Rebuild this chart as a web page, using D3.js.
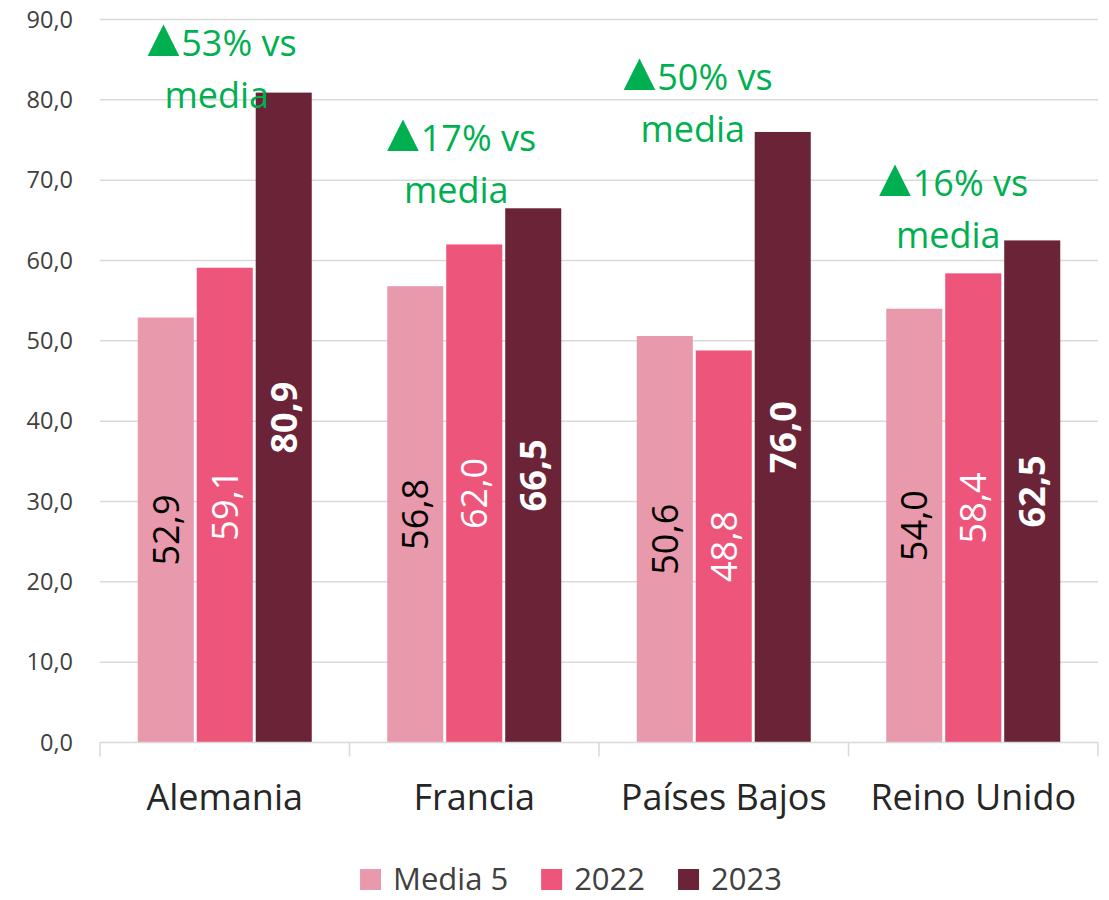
<!DOCTYPE html>
<html>
<head>
<meta charset="utf-8">
<script src="https://cdn.jsdelivr.net/npm/d3@7"></script>
<style>
  body { margin: 0; background: #fff; }
  svg { display: block; font-family: "Open Sans", sans-serif; }
</style>
</head>
<body>
<svg width="1109" height="900"></svg>
<script>
// Data
let countries = ["Alemania", "Francia", "Países Bajos", "Reino Unido"];
let seriesNames = ["Media 5", "2022", "2023"];
let media5 = [52.9, 56.8, 50.6, 54.0];
let y2022 = [59.1, 62.0, 48.8, 58.4];
let y2023 = [80.9, 66.5, 76.0, 62.5];
let notes = ["53% vs", "17% vs", "50% vs", "16% vs"];
let yTicks = [0, 10, 20, 30, 40, 50, 60, 70, 80, 90];

// Styles
let colors = ["#E899AB", "#ED557B", "#6B2437"];
let labelColors = ["#000", "#fff", "#fff"];
let labelWeights = ["normal", "normal", "bold"];
let green = "#00B050";
// hand placement of the green notes (px shift from 2023 bar top / group centre)
let noteNudge = [[-8, 15], [-18, -5], [-31, 10], [-25, 8]];

let svg = d3.select("svg");
let fmt = v => d3.format(".1f")(v).replace(".", ",");

let rows = countries.map((c, i) => ({ country: c, values: [media5[i], y2022[i], y2023[i]] }));

let x0 = d3.scaleBand().domain(countries).range([100, 1098]).padding(0);
let x1 = d3.scaleBand().domain(seriesNames)
  .range([37.75, x0.bandwidth() - 37.75]).paddingInner(0.05);
let y = d3.scaleLinear().domain([0, 90]).range([742.5, 19.5]);

// Gridlines
svg.append("g")
  .selectAll("line")
  .data(yTicks.slice(1))
  .enter().append("line")
  .attr("x1", 100).attr("x2", 1098)
  .attr("y1", d => y(d)).attr("y2", d => y(d))
  .attr("stroke", "#D9D9D9").attr("stroke-width", 1.5);

// Y axis labels
let yAxis = svg.append("g")
  .attr("transform", "translate(100,0)")
  .call(d3.axisLeft(y).tickValues(yTicks).tickFormat(fmt).tickSize(0).tickPadding(27));
yAxis.select(".domain").remove();
yAxis.selectAll("text")
  .attr("font-family", "Open Sans")
  .attr("font-size", 23.5)
  .attr("fill", "#404040");

// Bars
let groups = svg.append("g")
  .selectAll("g")
  .data(rows)
  .enter().append("g")
  .attr("transform", d => "translate(" + x0(d.country) + ",0)");

groups.selectAll("rect")
  .data(d => d.values.map((v, j) => ({ v, j })))
  .enter().append("rect")
  .attr("x", d => x1(seriesNames[d.j]))
  .attr("y", d => y(d.v))
  .attr("width", x1.bandwidth())
  .attr("height", d => y(0) - y(d.v))
  .attr("fill", d => colors[d.j]);

// Value labels, rotated inside the bars
groups.selectAll("text.val")
  .data(d => d.values.map((v, j) => ({ v, j })))
  .enter().append("text")
  .attr("class", "val")
  .attr("transform", d => "translate(" + (x1(seriesNames[d.j]) + x1.bandwidth() / 2) + "," + ((y(d.v) + y(0)) / 2) + ") rotate(-90)")
  .attr("text-anchor", "middle")
  .attr("dy", "0.36em")
  .attr("font-size", 36)
  .attr("font-weight", d => labelWeights[d.j])
  .attr("fill", d => labelColors[d.j])
  .text(d => fmt(d.v));

// X axis
let xAxis = svg.append("g")
  .attr("transform", "translate(0," + y(0) + ")");
xAxis.append("line")
  .attr("x1", 100).attr("x2", 1098)
  .attr("stroke", "#D9D9D9").attr("stroke-width", 1.5);
xAxis.selectAll("line.tick")
  .data(countries.map(c => x0(c)).concat([x0.range()[1]]))
  .enter().append("line")
  .attr("class", "tick")
  .attr("x1", d => d).attr("x2", d => d)
  .attr("y1", 0).attr("y2", 14)
  .attr("stroke", "#D9D9D9").attr("stroke-width", 1.5);
xAxis.selectAll("text")
  .data(countries)
  .enter().append("text")
  .attr("x", d => x0(d) + x0.bandwidth() / 2)
  .attr("y", 67)
  .attr("text-anchor", "middle")
  .attr("font-size", 36)
  .attr("fill", "#262626")
  .text(d => d);

// Green notes
let noteG = svg.append("g");
rows.forEach((d, i) => {
  let cx = x0(d.country) + x0.bandwidth() / 2 + noteNudge[i][0];
  let base = y(d.values[2]) + noteNudge[i][1];
  let t = noteG.append("text")
    .attr("text-anchor", "middle")
    .attr("font-size", 36)
    .attr("fill", green);
  t.append("tspan").attr("x", cx).attr("y", base - 52)
    .attr("font-size", 54)
    .text("▲");
  t.append("tspan")
    .attr("dx", -9)
    .text(notes[i]);
  t.append("tspan").attr("x", cx).attr("y", base)
    .text("media");
});

// Legend
let legend = svg.append("g");
let lx = 0;
seriesNames.forEach((s, i) => {
  let item = legend.append("g").attr("transform", "translate(" + lx + ",0)");
  item.append("rect")
    .attr("x", 0).attr("y", -21)
    .attr("width", 21).attr("height", 21)
    .attr("fill", colors[i]);
  let txt = item.append("text")
    .attr("x", 33).attr("y", 0)
    .attr("font-size", 31)
    .attr("fill", "#404040")
    .text(s);
  lx += 33 + txt.node().getComputedTextLength() + 33;
});
let lw = lx - 33;
legend.attr("transform", "translate(" + (571 - lw / 2) + ",890)");
</script>
</body>
</html>
